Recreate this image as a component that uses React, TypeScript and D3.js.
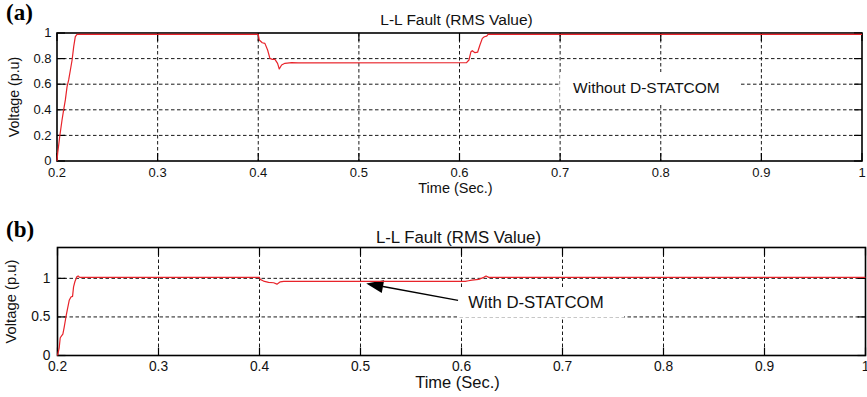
import React from 'react';
import * as d3 from 'd3';

// ---------- data ----------
const timeA = [0.2, 0.2007, 0.2027, 0.205, 0.2066, 0.2083, 0.21, 0.2116, 0.2133, 0.215, 0.2166, 0.2182, 0.2199, 0.4, 0.401, 0.404, 0.4066, 0.4093, 0.4116, 0.414, 0.4166, 0.4192, 0.4209, 0.4232, 0.4265, 0.4331, 0.4398, 0.607, 0.6094, 0.6114, 0.6127, 0.6154, 0.618, 0.6203, 0.6227, 0.6247, 0.627, 0.6286, 0.6303, 1.0];
const voltA = [0, 0.0625, 0.19, 0.32, 0.4, 0.477, 0.581, 0.633, 0.711, 0.789, 0.893, 0.971, 0.99, 0.99, 0.945, 0.924, 0.919, 0.867, 0.802, 0.794, 0.794, 0.763, 0.719, 0.75, 0.763, 0.768, 0.766, 0.768, 0.789, 0.854, 0.862, 0.846, 0.85, 0.906, 0.958, 0.971, 0.975, 0.991, 0.99, 0.99];

const timeB = [0.2, 0.2017, 0.2027, 0.204, 0.2053, 0.2066, 0.2083, 0.2099, 0.2116, 0.2133, 0.2149, 0.2159, 0.2172, 0.2192, 0.2205, 0.2219, 0.4, 0.4007, 0.404, 0.409, 0.414, 0.4173, 0.4206, 0.424, 0.6037, 0.607, 0.6103, 0.617, 0.622, 0.6243, 0.627, 1.0];
const voltB = [0, 0.1, 0.23, 0.254, 0.276, 0.364, 0.496, 0.605, 0.715, 0.758, 0.767, 0.89, 0.956, 1.022, 1.03, 1.013, 1.013, 0.987, 0.965, 0.947, 0.943, 0.925, 0.955, 0.96, 0.96, 0.969, 0.978, 0.987, 1.013, 1.03, 1.013, 1.013];

const xTicks = [0.2, 0.3, 0.4, 0.5, 0.6, 0.7, 0.8, 0.9, 1];
const yTicksA = [0, 0.2, 0.4, 0.6, 0.8, 1];
const yTicksB = [0, 0.5, 1];
const xDomain = [0.2, 1];
const yDomainA = [0, 1];
const yDomainB = [0, 1.4];

const titleText = 'L-L Fault (RMS Value)';
const xLabelText = 'Time (Sec.)';
const yLabelText = 'Voltage (p.u)';
const panelLabels = ['(a)', '(b)'];
const noteA = { text: 'Without D-STATCOM', t: 0.7129, v: 0.578 };
const noteB = { text: 'With D-STATCOM', t: 0.6066, v: 0.688, tailT: 0.5966, tailV: 0.714, tipT: 0.5057, tipV: 0.934 };

const SANS = '"Liberation Sans", Arial, Helvetica, sans-serif';
const SERIF = '"Liberation Serif", "Times New Roman", serif';
const RED = '#e8232a';

type PanelProps = {
  left: number; right: number; top: number; bottom: number;
  yDomain: number[]; yTicks: number[];
  times: number[]; volts: number[];
  titleY: number; titleSize: number;
  tickY: number; tickSize: number;
  xLabelY: number; xLabelSize: number;
  yLabelX: number; yLabelSize: number;
  yTickX: number;
  label: string; labelY: number;
  children?: (x: d3.ScaleLinear<number, number>, y: d3.ScaleLinear<number, number>) => React.ReactNode;
};

function Panel(p: PanelProps) {
  const x = d3.scaleLinear().domain(xDomain).range([p.left, p.right]);
  const y = d3.scaleLinear().domain(p.yDomain).range([p.bottom, p.top]);
  const pts: [number, number][] = p.times.map((t, i) => [t, p.volts[i]]);
  const line = d3.line<[number, number]>().x(d => x(d[0])).y(d => y(d[1]));
  const tickLen = 8;
  const cx = (p.left + p.right) / 2;
  return (
    <g>
      {/* grid */}
      {xTicks.slice(1, -1).map(t => (
        <line key={'gx' + t} x1={x(t)} x2={x(t)} y1={p.top} y2={p.bottom} stroke="#1a1a1a" strokeWidth={1} strokeDasharray="3.5,2.5" />
      ))}
      {p.yTicks.filter(v => v > p.yDomain[0] && v < p.yDomain[1]).map(v => (
        <line key={'gy' + v} x1={p.left} x2={p.right} y1={y(v)} y2={y(v)} stroke="#1a1a1a" strokeWidth={1} strokeDasharray="3.5,2.5" />
      ))}
      {/* ticks (inward, all four sides) */}
      {xTicks.map(t => (
        <g key={'tx' + t}>
          <line x1={x(t)} x2={x(t)} y1={p.bottom} y2={p.bottom - tickLen} stroke="#000" strokeWidth={1.2} />
          <line x1={x(t)} x2={x(t)} y1={p.top} y2={p.top + tickLen} stroke="#000" strokeWidth={1.2} />
        </g>
      ))}
      {p.yTicks.map(v => (
        <g key={'ty' + v}>
          <line x1={p.left} x2={p.left + tickLen} y1={y(v)} y2={y(v)} stroke="#000" strokeWidth={1.2} />
          <line x1={p.right} x2={p.right - tickLen} y1={y(v)} y2={y(v)} stroke="#000" strokeWidth={1.2} />
        </g>
      ))}
      {p.children ? p.children(x, y) : null}
      {/* box */}
      <rect x={p.left} y={p.top} width={p.right - p.left} height={p.bottom - p.top} fill="none" stroke="#000" strokeWidth={1.6} />
      {/* data */}
      <path d={line(pts) || ''} fill="none" stroke={RED} strokeWidth={1.2} strokeLinejoin="round" />
      {/* tick labels */}
      {xTicks.map(t => (
        <text key={'lx' + t} x={x(t)} y={p.tickY} textAnchor="middle" fontFamily={SANS} fontSize={p.tickSize} fill="#111">{String(t)}</text>
      ))}
      {p.yTicks.map(v => (
        <text key={'ly' + v} x={p.yTickX} y={y(v)} dy="0.33em" textAnchor="end" fontFamily={SANS} fontSize={p.tickSize} fill="#111">{String(v)}</text>
      ))}
      {/* titles */}
      <text x={cx - 3} y={p.titleY} textAnchor="middle" fontFamily={SANS} fontSize={p.titleSize} fill="#111">{titleText}</text>
      <text x={cx - 4} y={p.xLabelY} textAnchor="middle" fontFamily={SANS} fontSize={p.xLabelSize} fill="#111">{xLabelText}</text>
      <text transform={`translate(${p.yLabelX},${(p.top + p.bottom) / 2}) rotate(-90)`} textAnchor="middle" fontFamily={SANS} fontSize={p.yLabelSize} fill="#111">{yLabelText}</text>
      <text x={6} y={p.labelY} fontFamily={SERIF} fontWeight="bold" fontSize={23} fill="#000">{p.label}</text>
    </g>
  );
}

export default function App() {
  return (
    <svg width={867} height={397} style={{ position: 'absolute', left: 0, top: 0, background: '#fff' }} xmlns="http://www.w3.org/2000/svg">
      <rect x={0} y={0} width={867} height={397} fill="#fff" />
      <Panel
        left={57} right={862} top={33} bottom={161}
        yDomain={yDomainA} yTicks={yTicksA}
        times={timeA} volts={voltA}
        titleY={25} titleSize={15.5}
        tickY={177} tickSize={13}
        xLabelY={193} xLabelSize={14.5}
        yLabelX={19} yLabelSize={14.2}
        yTickX={51.5}
        label={panelLabels[0]} labelY={20}
      >
        {(x, y) => (
          <g>
            <rect x={x(noteA.t) - 13} y={y(noteA.v) - 15} width={180} height={31} fill="#fff" />
            <text x={x(noteA.t)} y={y(noteA.v)} dy="0.36em" fontFamily={SANS} fontSize={15.5} fill="#111">{noteA.text}</text>
          </g>
        )}
      </Panel>
      <Panel
        left={57.5} right={865.5} top={247.5} bottom={355.5}
        yDomain={yDomainB} yTicks={yTicksB}
        times={timeB} volts={voltB}
        titleY={243} titleSize={16.8}
        tickY={371} tickSize={13.8}
        xLabelY={388} xLabelSize={16.5}
        yLabelX={16} yLabelSize={14.8}
        yTickX={50.5}
        label={panelLabels[1]} labelY={237}
      >
        {(x, y) => {
          const tx = x(noteB.tailT), ty = y(noteB.tailV);
          const hx = x(noteB.tipT), hy = y(noteB.tipV);
          const ang = Math.atan2(hy - ty, hx - tx);
          const hl = 17, hw = 6.5;
          const bx = hx - hl * Math.cos(ang), by = hy - hl * Math.sin(ang);
          const px = -Math.sin(ang) * hw, py = Math.cos(ang) * hw;
          return (
            <g>
              <rect x={x(noteB.tailT)} y={y(noteB.v) - 15} width={166} height={30} fill="#fff" />
              <text x={x(noteB.t)} y={y(noteB.v)} dy="0.36em" fontFamily={SANS} fontSize={16.8} fill="#111">{noteB.text}</text>
              <line x1={tx} y1={ty} x2={bx} y2={by} stroke="#000" strokeWidth={1.4} />
              <path d={`M${hx},${hy}L${bx + px},${by + py}L${bx - px},${by - py}Z`} fill="#000" />
            </g>
          );
        }}
      </Panel>
    </svg>
  );
}
